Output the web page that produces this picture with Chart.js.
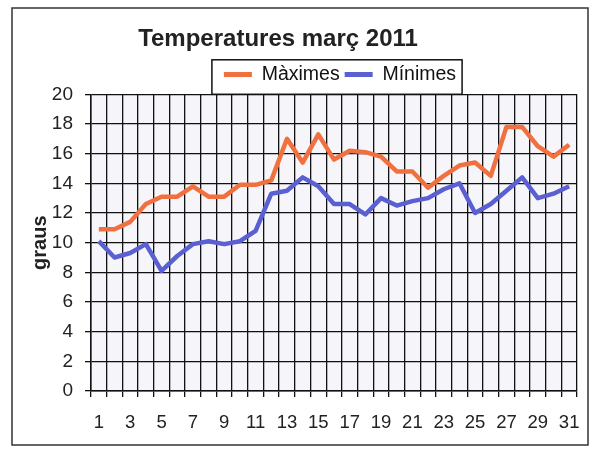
<!DOCTYPE html>
<html>
<head>
<meta charset="utf-8">
<script src="https://cdn.jsdelivr.net/npm/chart.js@4/dist/chart.umd.min.js"></script>
<style>
  html, body { margin: 0; padding: 0; background: #fff; }
  #wrap { width: 600px; height: 452px; }
</style>
</head>
<body>
<div id="wrap"><canvas id="grafic" width="600" height="452"></canvas></div>
<script>
// Dies del mes i temperatures llegides del gràfic
const dies = Array.from({ length: 31 }, (_, i) => String(i + 1));
const maximes = [10.9, 10.9, 11.4, 12.6, 13.1, 13.1, 13.8, 13.1, 13.1, 13.9, 13.9, 14.2, 17.0, 15.4, 17.3, 15.6,
  16.2, 16.1, 15.8, 14.8, 14.8, 13.7, 14.5, 15.2, 15.4, 14.5, 17.8, 17.8, 16.5, 15.8, 16.6];
const minimes = [10.1, 9.0, 9.3, 9.9, 8.1, 9.1, 9.9, 10.1, 9.9, 10.1, 10.8, 13.3, 13.5, 14.4, 13.8, 12.6,
  12.6, 11.9, 13.0, 12.5, 12.8, 13.0, 13.6, 14.0, 12.0, 12.6, 13.5, 14.4, 13.0, 13.3, 13.8];
const ticksY = [0, 2, 4, 6, 8, 10, 12, 14, 16, 18, 20];

const colorMax = '#f0703f';
const colorMin = '#5a60d2';
const font = 'Liberation Sans, Arial';

// Fons de l'àrea del gràfic, marc exterior i marc de la llegenda
const marcs = {
  id: 'marcs',
  afterLayout(chart) {
    // centra el títol i la llegenda com a l'original
    chart.titleBlock.left = 20;
    chart.titleBlock.right = 536;
    chart.legend.left = chart.chartArea.left + 6;
    chart.legend.right = chart.chartArea.right + 6;
  },
  beforeDraw(chart) {
    const { ctx, chartArea: a } = chart;
    ctx.save();
    ctx.fillStyle = '#f6f5f9';
    ctx.fillRect(a.left, a.top, a.right - a.left, a.bottom - a.top);
    ctx.strokeStyle = '#333';
    ctx.lineWidth = 1.5;
    ctx.strokeRect(12, 8, 576, 437);
    ctx.restore();
  },
  afterDraw(chart) {
    const boxes = chart.legend.legendHitBoxes;
    if (!boxes || !boxes.length) return;
    const l = Math.min(...boxes.map(b => b.left)) - 12;
    const r = Math.max(...boxes.map(b => b.left + b.width)) + 6;
    const { ctx } = chart;
    ctx.save();
    ctx.strokeStyle = '#111';
    ctx.lineWidth = 1.5;
    ctx.strokeRect(l, chart.legend.top, r - l, chart.legend.bottom - chart.legend.top);
    ctx.restore();
  }
};

new Chart(document.getElementById('grafic'), {
  type: 'line',
  data: {
    labels: dies,
    datasets: [
      { label: 'Màximes', data: maximes, borderColor: colorMax, backgroundColor: colorMax,
        borderWidth: 4.5, pointRadius: 0, tension: 0, borderJoinStyle: 'round' },
      { label: 'Mínimes', data: minimes, borderColor: colorMin, backgroundColor: colorMin,
        borderWidth: 4.5, pointRadius: 0, tension: 0, borderJoinStyle: 'round' }
    ]
  },
  options: {
    responsive: false,
    animation: false,
    layout: { padding: { top: 10, left: 20, right: 23, bottom: 20 } },
    plugins: {
      title: {
        display: true,
        text: 'Temperatures març 2011',
        color: '#222',
        font: { family: font, size: 24, weight: 'bold' },
        padding: { top: 15, bottom: 6 }
      },
      legend: {
        display: true,
        position: 'top',
        labels: {
          color: '#111',
          font: { family: font, size: 19.5 },
          boxWidth: 28,
          boxHeight: 5,
          padding: 5,
          generateLabels(chart) {
            return Chart.defaults.plugins.legend.labels.generateLabels(chart)
              .map(it => Object.assign(it, { lineWidth: 0 }));
          }
        }
      },
      tooltip: { enabled: false }
    },
    scales: {
      x: {
        offset: true,
        grid: { offset: true, color: '#111', lineWidth: 1.3, borderDash: [4, 3], tickLength: 6, tickColor: '#111' },
        border: { display: true, color: '#111', width: 1.5 },
        ticks: {
          autoSkip: false, maxRotation: 0, padding: 15, color: '#222',
          font: { family: font, size: 18.5 },
          callback: (v, i) => (i % 2 === 0 ? dies[i] : '')
        },
        afterFit(scale) { scale.height = 41; }
      },
      y: {
        min: 0,
        max: 20,
        afterBuildTicks(scale) { scale.ticks = ticksY.map(v => ({ value: v })); },
        grid: { color: '#111', lineWidth: 1.3, borderDash: [4, 3], tickLength: 6, tickColor: '#111' },
        border: { display: true, color: '#111', width: 1.5 },
        ticks: { padding: 12, color: '#222', font: { family: font, size: 19 } },
        title: {
          display: true, text: 'graus', color: '#222',
          font: { family: font, size: 20, weight: 'bold' },
          padding: { top: 8, bottom: 0 }
        },
        afterFit(scale) { scale.width = 71; }
      }
    }
  },
  plugins: [marcs]
});
</script>
</body>
</html>
